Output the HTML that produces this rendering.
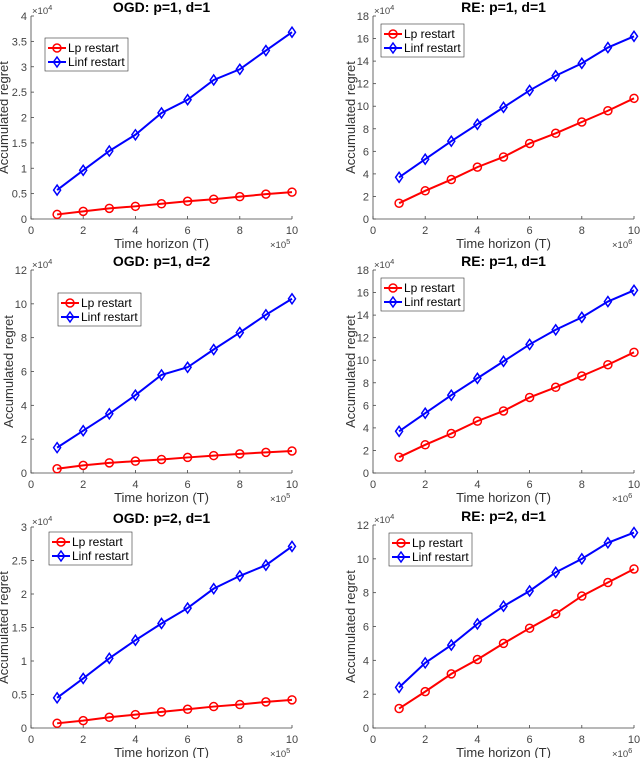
<!DOCTYPE html>
<html><head><meta charset="utf-8"><style>
body{margin:0;background:#fff;}
svg{display:block;font-family:"Liberation Sans",sans-serif;}
</style></head><body>
<svg id="fig" width="640" height="758" viewBox="0 0 640 758"></svg>
<script>
const xCats=[1,2,3,4,5,6,7,8,9,10];
const xTicks=[0,2,4,6,8,10];
const p1Lp=[0.09,0.15,0.21,0.25,0.30,0.35,0.39,0.44,0.49,0.53];
const p1Linf=[0.57,0.96,1.34,1.66,2.09,2.35,2.74,2.95,3.32,3.68];
const p2Lp=[1.4,2.5,3.5,4.6,5.5,6.7,7.6,8.6,9.6,10.7];
const p2Linf=[3.7,5.3,6.9,8.4,9.9,11.4,12.7,13.8,15.2,16.2];
const p3Lp=[0.25,0.45,0.6,0.7,0.8,0.92,1.03,1.13,1.22,1.3];
const p3Linf=[1.5,2.5,3.5,4.6,5.8,6.25,7.3,8.3,9.35,10.3];
const p5Lp=[0.07,0.11,0.16,0.20,0.24,0.28,0.32,0.35,0.39,0.42];
const p5Linf=[0.45,0.74,1.04,1.31,1.56,1.79,2.08,2.27,2.43,2.71];
const p6Lp=[1.15,2.15,3.2,4.05,5.0,5.9,6.75,7.8,8.6,9.4];
const p6Linf=[2.4,3.85,4.9,6.15,7.2,8.1,9.2,10.0,10.95,11.55];
const ticksA=[0,0.5,1,1.5,2,2.5,3,3.5,4];
const ticksB=[0,2,4,6,8,10,12,14,16,18];
const ticksC=[0,2,4,6,8,10,12];
const ticksD=[0,0.5,1,1.5,2,2.5,3];

const NS="http://www.w3.org/2000/svg";
const svg=document.getElementById('fig');
function mk(tag,attrs,parent,text){const e=document.createElementNS(NS,tag);for(const k in attrs)e.setAttribute(k,attrs[k]);if(text!==undefined)e.textContent=text;(parent||svg).appendChild(e);return e;}

const panels=[
 {name:'ogd-p1-d1',title:'OGD: p=1, d=1',x0:31,x1:292,y0:16,y1:219,ymax:4,yt:ticksA,lp:p1Lp,li:p1Linf,xe:'5',leg:[45,38]},
 {name:'re-p1-d1',title:'RE: p=1, d=1',x0:373,x1:634,y0:16,y1:219,ymax:18,yt:ticksB,lp:p2Lp,li:p2Linf,xe:'6',leg:[381,24]},
 {name:'ogd-p1-d2',title:'OGD: p=1, d=2',x0:31,x1:292,y0:270,y1:473,ymax:12,yt:ticksC,lp:p3Lp,li:p3Linf,xe:'5',leg:[58,293]},
 {name:'re-p1-d1-b',title:'RE: p=1, d=1',x0:373,x1:634,y0:270,y1:473,ymax:18,yt:ticksB,lp:p2Lp,li:p2Linf,xe:'6',leg:[381,278]},
 {name:'ogd-p2-d1',title:'OGD: p=2, d=1',x0:31,x1:292,y0:527,y1:728,ymax:3,yt:ticksD,lp:p5Lp,li:p5Linf,xe:'5',leg:[49,532]},
 {name:'re-p2-d1',title:'RE: p=2, d=1',x0:373,x1:634,y0:525,y1:728,ymax:12,yt:ticksC,lp:p6Lp,li:p6Linf,xe:'6',leg:[389,533]}
];
function diamond(g,x,y,c){const e=mk('path',{d:`M${x} ${y-5}L${x+3.5} ${y}L${x} ${y+5}L${x-3.5} ${y}Z`,fill:'none',stroke:c,'stroke-width':1.5},g);}
function circ(g,x,y,c){const e=mk('circle',{cx:x,cy:y,r:4,fill:'none',stroke:c,'stroke-width':1.5},g);}
panels.forEach(p=>{
 const g=mk('g',{});
 
 
 const sx=v=>p.x0+(p.x1-p.x0)*v/10;
 const sy=v=>p.y1-(p.y1-p.y0)*v/p.ymax;
 const ax=mk('path',{d:`M${p.x0} ${p.y0}V${p.y1}H${p.x1}`,fill:'none',stroke:'#444','stroke-width':0.8},g);
 
 xTicks.forEach(t=>{mk('line',{x1:sx(t),x2:sx(t),y1:p.y1,y2:p.y1-3,stroke:'#444','stroke-width':0.8},g);
  const tl=mk('text',{x:sx(t),y:p.y1+15,'text-anchor':'middle','font-size':11,fill:'#444'},g,String(t));});
 p.yt.forEach(t=>{mk('line',{x1:p.x0,x2:p.x0+3,y1:sy(t),y2:sy(t),stroke:'#444','stroke-width':0.8},g);
  const tl=mk('text',{x:p.x0-4,y:sy(t)+4,'text-anchor':'end','font-size':11,fill:'#444'},g,String(t));});
 const ye=mk('text',{x:p.x0+1,y:p.y0-2,'font-size':9.5,fill:'#444'},g);
 ye.innerHTML='×10<tspan dy="-4" font-size="7.5">4</tspan>';
 const xe=mk('text',{x:p.x1-22,y:p.y1+29,'font-size':9.5,fill:'#444'},g);
 xe.innerHTML='×10<tspan dy="-4" font-size="7.5">'+p.xe+'</tspan>';
 const xt=mk('text',{x:(p.x0+p.x1)/2,y:p.y1+29,'text-anchor':'middle','font-size':13,fill:'#333'},g,'Time horizon (T)');
 const yx=p.x0-(p.ymax<=4?23:18),ym=(p.y0+p.y1)/2;
 const yt=mk('text',{x:yx,y:ym,'text-anchor':'middle','font-size':13,fill:'#333',transform:`rotate(-90 ${yx} ${ym})`},g,'Accumulated regret');
 const ti=mk('text',{x:(p.x0+p.x1)/2,y:p.y0-4,'text-anchor':'middle','font-size':14,'font-weight':'bold',fill:'#000'},g,p.title);
 [[p.lp,'#f00',circ,'lp'],[p.li,'#00f',diamond,'linf']].forEach(([arr,c,m,n])=>{
  const l=mk('polyline',{points:arr.map((v,i)=>sx(xCats[i])+','+sy(v)).join(' '),fill:'none',stroke:c,'stroke-width':2},g);
  
  arr.forEach((v,i)=>m(g,sx(xCats[i]),sy(v),c));
 });
 const [lx,ly]=p.leg;
 const lg=mk('g',{},g);
 mk('rect',{x:lx,y:ly,width:83,height:33,fill:'#fff',stroke:'#333','stroke-width':0.6},lg);
 [['Lp restart','#f00',circ,10],['Linf restart','#00f',diamond,24]].forEach(([t,c,m,dy])=>{
  mk('line',{x1:lx+3,x2:lx+21,y1:ly+dy,y2:ly+dy,stroke:c,'stroke-width':2},lg);m(lg,lx+12,ly+dy,c);
  const te=mk('text',{x:lx+23,y:ly+dy+4,'font-size':12,fill:'#000'},lg,t);
 });
});
</script>
</body></html>
